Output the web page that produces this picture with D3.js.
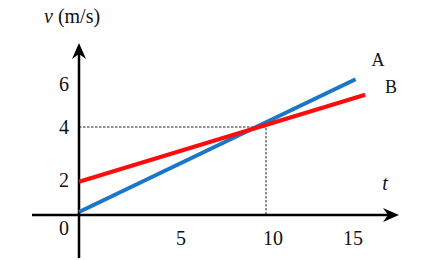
<!DOCTYPE html>
<html>
<head>
    <script src="https://cdn.jsdelivr.net/npm/d3@7"></script>
    <style>
        body { margin: 0; background: #fff; }
        text { font-family: "Liberation Serif", "DejaVu Serif", serif; fill: #111; }
    </style>
</head>
<body>
    <svg width="423" height="260" id="mainsvg"></svg>
    <script>
        // values
        const tTicks = [5, 10, 15];
        const vTicks = [0, 2, 4, 6];
        const lineNames = ['A', 'B'];
        const lineA = [[0, 0.17], [15.6, 6.22]];
        const lineB = [[0, 1.9], [16.2, 5.5]];
        const guide = [10, 4];

        const svg = d3.select('svg');

        // the drawing is not quite linear, so use piecewise scales
        const x = d3.scaleLinear().domain([0, 5, 10, 15]).range([79, 174, 266, 346]);
        const y = d3.scaleLinear().domain([0, 2, 4, 6]).range([215, 180, 127, 84]);

        const line = d3.line().x(d => x(d[0])).y(d => y(d[1]));

        // dashed guides
        svg.append('path')
            .attr('d', line([[0, guide[1]], guide, [guide[0], 0]]))
            .attr('fill', 'none')
            .attr('stroke', '#222')
            .attr('stroke-width', 1)
            .attr('stroke-dasharray', '2.5,1.5');

        // axes
        svg.append('line')
            .attr('x1', 32).attr('x2', 392)
            .attr('y1', y(0)).attr('y2', y(0))
            .attr('stroke', '#000').attr('stroke-width', 2.5);
        svg.append('line')
            .attr('x1', x(0)).attr('x2', x(0))
            .attr('y1', 258).attr('y2', 50)
            .attr('stroke', '#000').attr('stroke-width', 2.5);

        // arrow heads
        const arrow = 'M0,0 L-16,-7 L-11,0 L-16,7 Z';
        svg.append('path').attr('d', arrow)
            .attr('transform', `translate(399,${y(0)})`).attr('fill', '#000');
        svg.append('path').attr('d', arrow)
            .attr('transform', `translate(${x(0)},43) rotate(-90)`).attr('fill', '#000');

        // the two lines
        svg.selectAll('path.series').data([lineA, lineB]).join('path')
            .attr('class', 'series')
            .attr('d', line)
            .attr('fill', 'none')
            .attr('stroke', (d, i) => ['#1a76c6', '#fb0d0d'][i])
            .attr('stroke-width', 4);

        // tick labels
        svg.selectAll('text.tx').data(tTicks).join('text')
            .attr('class', 'tx')
            .attr('x', d => x(d) + 7)
            .attr('y', 245)
            .attr('text-anchor', 'middle')
            .attr('font-size', 20)
            .text(d => d);

        svg.selectAll('text.ty').data(vTicks).join('text')
            .attr('class', 'ty')
            .attr('x', 64)
            .attr('y', d => d === 0 ? y(d) + 20 : y(d) + 7)
            .attr('text-anchor', 'middle')
            .attr('font-size', 20)
            .text(d => d);

        // axis titles
        const vt = svg.append('text').attr('x', 44).attr('y', 23).attr('font-size', 20);
        vt.append('tspan').attr('font-style', 'italic').text('v');
        vt.append('tspan').text(' (m/s)');

        svg.append('text')
            .attr('x', 385).attr('y', 190)
            .attr('text-anchor', 'middle')
            .attr('font-size', 20)
            .attr('font-style', 'italic')
            .text('t');

        // line names
        svg.selectAll('text.name').data(lineNames).join('text')
            .attr('class', 'name')
            .attr('x', (d, i) => [378, 391][i])
            .attr('y', (d, i) => [66, 93][i])
            .attr('text-anchor', 'middle')
            .attr('font-size', 18)
            .text(d => d);
    </script>
</body>
</html>
